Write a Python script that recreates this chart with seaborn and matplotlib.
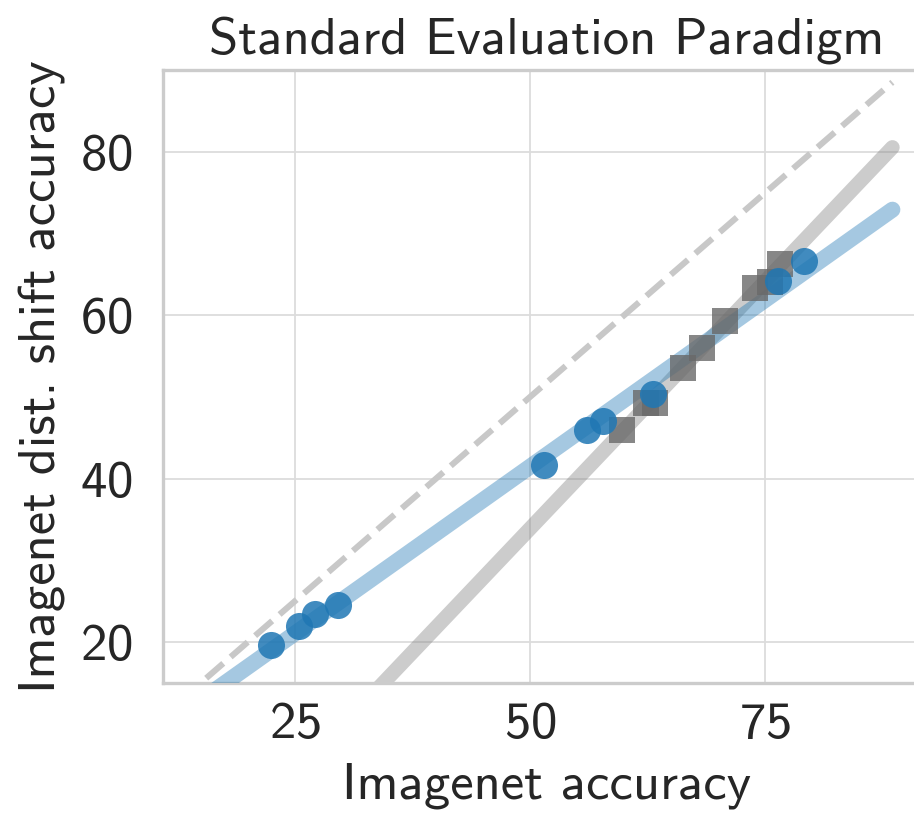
import numpy as np
import pandas as pd
import matplotlib
matplotlib.use("Agg")
import matplotlib.pyplot as plt
import seaborn as sns

# ---- data ----
circle_x = [22.5, 25.5, 27.2, 29.6, 51.5, 56.0, 57.7, 63.1, 76.3, 79.1]
circle_y = [19.6, 22.0, 23.4, 24.6, 41.7, 45.9, 47.0, 50.3, 64.2, 66.6]
square_x = [59.8, 62.3, 63.3, 66.3, 68.3, 70.7, 73.9, 75.5, 76.6]
square_y = [45.9, 49.2, 49.3, 53.6, 56.0, 59.3, 63.3, 64.1, 66.3]
x_ticks = [25, 50, 75]
y_ticks = [20, 40, 60, 80]
line_x_end = 88.5

title = "Standard Evaluation Paradigm"
xlabel = "Imagenet accuracy"
ylabel = "Imagenet dist. shift accuracy"

sns.set_theme(style="whitegrid")
plt.rcParams["font.family"] = ["cmss10", "DejaVu Sans"]
plt.rcParams["axes.unicode_minus"] = False
plt.rcParams["axes.formatter.use_mathtext"] = True

FS = 38

fig = plt.figure(figsize=(9.14, 8.27), dpi=100)
ax = fig.add_axes([163 / 914, 1 - 683 / 827, (931 - 163) / 914, (683 - 70) / 827])

circles = pd.DataFrame({"x": circle_x, "y": circle_y})
squares = pd.DataFrame({"x": square_x, "y": square_y})

xs = np.linspace(0, line_x_end, 200)
# y = x reference
ax.plot(xs, xs, ls="--", color="#c8c8c8", lw=4.4, zorder=1)
# linear fits
pg = np.polyfit(square_x, square_y, 1)
pb = np.polyfit(circle_x, circle_y, 1)
sns.lineplot(x=xs, y=np.polyval(pg, xs), ax=ax, color="gray", alpha=0.4, lw=10.5,
             zorder=2, solid_capstyle="round")
sns.lineplot(x=xs, y=np.polyval(pb, xs), ax=ax, color="#1f77b4", alpha=0.4, lw=11.5,
             zorder=3, solid_capstyle="round")

sns.scatterplot(data=squares, x="x", y="y", ax=ax, marker="s", s=360,
                color="dimgray", alpha=0.8, linewidth=0, zorder=4)
sns.scatterplot(data=circles, x="x", y="y", ax=ax, marker="o", s=380,
                color="#1f77b4", alpha=0.85, linewidth=0, zorder=5)

ax.set_xlim(11, 92.6)
ax.set_ylim(15, 90)
ax.set_xticks(x_ticks)
ax.set_yticks(y_ticks)
ax.tick_params(axis="both", labelsize=FS, length=0, colors="#262626")
ax.tick_params(axis="x", pad=14)
ax.tick_params(axis="y", pad=22)
ax.grid(True, color="#dcdcdc", lw=1.3)
for side in ["left", "bottom", "top", "right"]:
    ax.spines[side].set_color("#cccccc")
    ax.spines[side].set_linewidth(2.4)

ax.set_title(title, fontsize=FS, color="#262626", pad=12)
ax.set_xlabel(xlabel, fontsize=FS, color="#262626", labelpad=10)
ax.set_ylabel(ylabel, fontsize=FS, color="#262626", labelpad=10)

fig.savefig("out.png", dpi=100)
